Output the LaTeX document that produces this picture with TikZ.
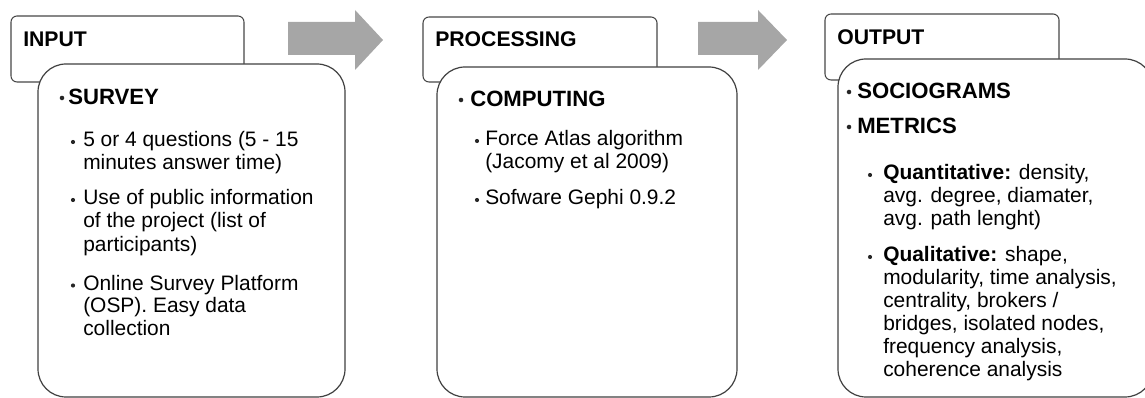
\documentclass[tikz,border=0pt]{standalone}
\usepackage{fontspec}
\setmainfont{Liberation Sans}
\begin{document}
\begin{tikzpicture}[x=0.75pt,y=-0.75pt,
  hdrbox/.style={draw=black!72, line width=0.8pt, rounded corners=4.5pt, fill=white},
  mainbox/.style={draw=black!75, line width=0.9pt, rounded corners=21pt, fill=white},
  blockarrow/.style={fill=black!35, draw=none},
  hdr/.style={font=\fontsize{15.9}{18}\selectfont\bfseries, anchor=base west, inner sep=0pt},
  lvlone/.style={font=\fontsize{16.6}{18}\selectfont\bfseries, anchor=base west, inner sep=0pt},
  lvltwo/.style={font=\fontsize{15.7}{18}\selectfont, anchor=base west, inner sep=0pt},
  bul/.style={circle, fill=black!85, inner sep=0pt, minimum size=3.1pt},
  bulone/.style={bul, minimum size=3.4pt},
]
\useasboundingbox (0,0) rectangle (1145,398);

% stage arrows
\path[blockarrow] (288,22) -- (355,22) -- (355,10) -- (383,40) -- (355,70) -- (355,55) -- (288,55) -- cycle;
\path[blockarrow] (698,22) -- (758,22) -- (758,10) -- (787,40) -- (758,70) -- (758,55) -- (698,55) -- cycle;

% ---------- INPUT ----------
\draw[hdrbox] (11,16) rectangle (244,82);
\node[hdr] (inputT) at (23,46.5) {INPUT};
\draw[mainbox] (38,64) rectangle (345,397);
\node[bulone] (ib0) at (62,98) {};
\node[lvlone] (survey) at (68,105) {SURVEY};
\node[bul] (ib1) at (73,142) {};
\node[lvltwo] (i1a) at (83,147) {5 or 4 questions (5 - 15};
\node[lvltwo] (i1b) at (83,169.5) {minutes answer time)};
\node[bul] (ib2) at (73,200) {};
\node[lvltwo] (i2a) at (83,205) {Use of public information};
\node[lvltwo] (i2b) at (83,228) {of the project (list of};
\node[lvltwo] (i2c) at (83,251.5) {participants)};
\node[bul] (ib3) at (73,285.5) {};
\node[lvltwo] (i3a) at (83,290.5) {Online Survey Platform};
\node[lvltwo] (i3b) at (83,313) {(OSP). Easy data};
\node[lvltwo] (i3c) at (83,335.5) {collection};

% ---------- PROCESSING ----------
\draw[hdrbox] (423,17) rectangle (657,82);
\node[hdr] (procT) at (435,47) {PROCESSING};
\draw[mainbox] (437,67) rectangle (737,397);
\node[bulone] (pb0) at (461,100) {};
\node[lvlone] (computing) at (470,107) {COMPUTING};
\node[bul] (pb1) at (477,141) {};
\node[lvltwo] (p1a) at (485,146) {Force Atlas algorithm};
\node[lvltwo] (p1b) at (485,169) {(Jacomy et al 2009)};
\node[bul] (pb2) at (477,200) {};
\node[lvltwo] (p2a) at (485,205) {Sofware Gephi 0.9.2};

% ---------- OUTPUT ----------
\draw[hdrbox] (825,14) rectangle (1059,80);
\node[hdr] (outT) at (837,45) {OUTPUT};
\draw[mainbox] (838,59) rectangle (1153,397);
\node[bulone] (ob0) at (849,92) {};
\node[lvlone] (socio) at (857,99) {SOCIOGRAMS};
\node[bulone] (ob1) at (849,127) {};
\node[lvlone] (metrics) at (857,134) {METRICS};
\node[bul] (ob2) at (870,175) {};
\node[lvltwo] (o1a) at (883,180) {\textbf{Quantitative:} density,};
\node[lvltwo] (o1b) at (883,203) {avg. degree, diamater,};
\node[lvltwo] (o1c) at (883,226) {avg. path lenght)};
\node[bul] (ob3) at (870,257) {};
\node[lvltwo] (o2a) at (883,262) {\textbf{Qualitative:} shape,};
\node[lvltwo] (o2b) at (883,285) {modularity, time analysis,};
\node[lvltwo] (o2c) at (883,308) {centrality, brokers /};
\node[lvltwo] (o2d) at (883,331) {bridges, isolated nodes,};
\node[lvltwo] (o2e) at (883,354) {frequency analysis,};
\node[lvltwo] (o2f) at (883,377) {coherence analysis};
\end{tikzpicture}
\end{document}
